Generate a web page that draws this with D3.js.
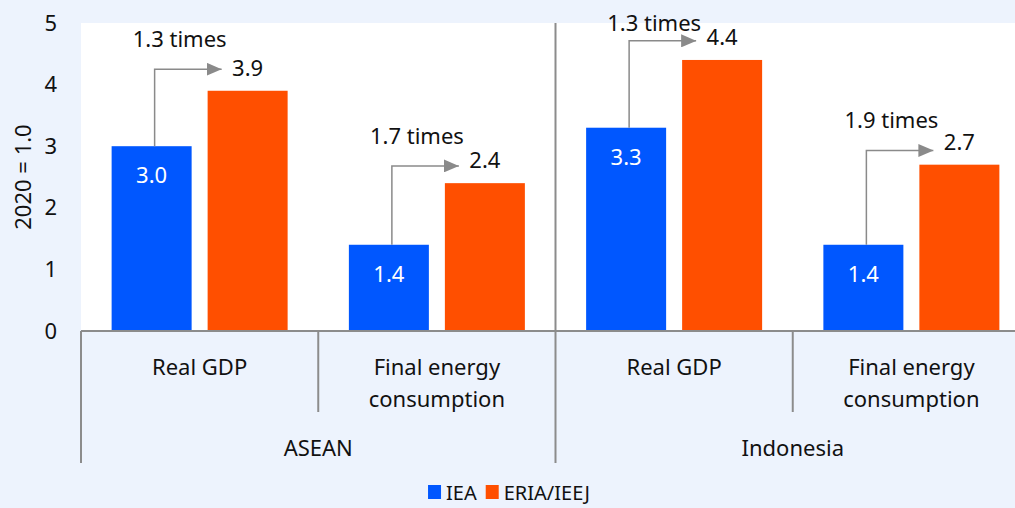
<!DOCTYPE html>
<html>
<head>
<meta charset="utf-8">
<script src="https://cdn.jsdelivr.net/npm/d3@7"></script>
<style>
  html, body { margin: 0; padding: 0; background: #EDF3FD; }
  svg { display: block; font-family: "Noto Sans", "Open Sans", sans-serif; }
</style>
</head>
<body>
<svg id="chart" width="1015" height="508"></svg>
<script>
// Regions, indicators and series
const regions = ["ASEAN", "Indonesia"];
const indicators = ["Real GDP", "Final energy consumption"];
const indicatorLines = [["Real GDP"], ["Final energy", "consumption"]];
const series = ["IEA", "ERIA/IEEJ"];

// Multiples of 2020 level (2020 = 1.0), ordered region × indicator
const ieaValues = [3.0, 1.4, 3.3, 1.4];
const eriaValues = [3.9, 2.4, 4.4, 2.7];

// Growth ratio annotations, and the levels (in index units) of the arrow and its label
const ratioLabels = ["1.3 times", "1.7 times", "1.3 times", "1.9 times"];
const arrowLevels = [4.25, 2.68, 4.71, 2.93];
const ratioLabelLevels = [4.76, 3.18, 5.02, 3.44];

const yTicks = [0, 1, 2, 3, 4, 5];
const yTitle = "2020 = 1.0";

const colors = { "IEA": "#0057FF", "ERIA/IEEJ": "#FF4F00" };
const axisGrey = "#8C8C8C";
const arrowGrey = "#8A8A8A";
const fontSize = 22;
const legendFontSize = 20;

const svg = d3.select("#chart");
const plot = { left: 81, right: 1030, top: 23, bottom: 331 };

const y = d3.scaleLinear().domain([0, 5]).range([plot.bottom, plot.top]);
const xRegion = d3.scaleBand().domain(regions).range([plot.left, plot.right]);
const xInd = d3.scaleBand().domain(indicators).range([0, xRegion.bandwidth()]);
const xSer = d3.scaleBand().domain(series)
  .range([xInd.bandwidth() / 2 - 88, xInd.bandwidth() / 2 + 88])
  .paddingInner(1 / 6);

// white plotting area
svg.append("rect")
  .attr("x", plot.left).attr("y", plot.top)
  .attr("width", plot.right - plot.left).attr("height", plot.bottom - plot.top)
  .attr("fill", "#FFFFFF");

// rows of bar data
const rows = [];
regions.forEach((r, ri) => indicators.forEach((ind, ii) => {
  const k = ri * indicators.length + ii;
  rows.push({ region: r, indicator: ind, k,
    values: { "IEA": ieaValues[k], "ERIA/IEEJ": eriaValues[k] } });
}));
const groupX = d => xRegion(d.region) + xInd(d.indicator);

// bars
const g = svg.append("g");
rows.forEach(d => {
  series.forEach(s => {
    g.append("rect")
      .attr("x", groupX(d) + xSer(s))
      .attr("y", y(d.values[s]))
      .attr("width", xSer.bandwidth())
      .attr("height", y(0) - y(d.values[s]))
      .attr("fill", colors[s]);
  });
});

// arrowhead
svg.append("defs").append("marker")
  .attr("id", "head").attr("viewBox", "0 0 15 13")
  .attr("refX", 15).attr("refY", 6.5)
  .attr("markerWidth", 15).attr("markerHeight", 13)
  .attr("markerUnits", "userSpaceOnUse").attr("orient", "auto")
  .append("path").attr("d", "M0,0 L15,6.5 L0,13 Z").attr("fill", arrowGrey);

// value labels and growth arrows
rows.forEach(d => {
  const bx = groupX(d) + xSer("IEA") + xSer.bandwidth() / 2;
  const ox = groupX(d) + xSer("ERIA/IEEJ") + xSer.bandwidth() / 2;
  const oLeft = groupX(d) + xSer("ERIA/IEEJ");
  const ay = y(arrowLevels[d.k]);

  g.append("text")
    .attr("x", bx).attr("y", y(d.values["IEA"]) + 28)
    .attr("text-anchor", "middle").attr("dominant-baseline", "central")
    .attr("fill", "#FFFFFF").attr("font-size", fontSize)
    .text(d3.format(".1f")(d.values["IEA"]));

  g.append("text")
    .attr("x", ox).attr("y", y(d.values["ERIA/IEEJ"]) - 24)
    .attr("text-anchor", "middle").attr("dominant-baseline", "central")
    .attr("fill", "#111").attr("font-size", fontSize)
    .text(d3.format(".1f")(d.values["ERIA/IEEJ"]));

  g.append("path")
    .attr("d", d3.line()([[bx + 3, y(d.values["IEA"])], [bx + 3, ay], [oLeft + 14, ay]]))
    .attr("fill", "none").attr("stroke", arrowGrey).attr("stroke-width", 1.5)
    .attr("marker-end", "url(#head)");

  g.append("text")
    .attr("x", bx + 28).attr("y", y(ratioLabelLevels[d.k]))
    .attr("text-anchor", "middle").attr("dominant-baseline", "central")
    .attr("fill", "#111").attr("font-size", fontSize)
    .text(ratioLabels[d.k]);
});

// y axis
const yAxis = svg.append("g")
  .attr("transform", `translate(${plot.left},0)`)
  .call(d3.axisLeft(y).tickValues(yTicks).tickSize(0).tickPadding(24).tickFormat(d3.format("d")));
yAxis.select(".domain").remove();
yAxis.selectAll("text").attr("font-size", fontSize).attr("fill", "#111")
  .attr("font-family", "Noto Sans, Open Sans, sans-serif");

svg.append("text")
  .attr("transform", `translate(22,${(plot.top + plot.bottom) / 2}) rotate(-90)`)
  .attr("text-anchor", "middle").attr("dominant-baseline", "central")
  .attr("font-size", fontSize).attr("fill", "#111")
  .text(yTitle);

// category axis: baseline, dividers, and labels
const ax = svg.append("g").attr("stroke", axisGrey).attr("stroke-width", 2);
ax.append("line").attr("x1", plot.left).attr("x2", plot.right)
  .attr("y1", plot.bottom).attr("y2", plot.bottom);
regions.forEach((r, i) => {
  const x0 = xRegion(r);
  ax.append("line").attr("x1", x0).attr("x2", x0)
    .attr("y1", i === 0 ? plot.bottom : plot.top).attr("y2", 463);
  indicators.forEach((ind, j) => {
    if (j > 0) {
      const xi = x0 + xInd(ind);
      ax.append("line").attr("x1", xi).attr("x2", xi)
        .attr("y1", plot.bottom).attr("y2", 412);
    }
  });
});
const lastX = xRegion(regions[regions.length - 1]) + xRegion.bandwidth();
ax.append("line").attr("x1", lastX).attr("x2", lastX)
  .attr("y1", plot.top).attr("y2", 463);

const labels = svg.append("g").attr("font-size", fontSize).attr("fill", "#111")
  .attr("text-anchor", "middle");
regions.forEach(r => {
  indicators.forEach((ind, j) => {
    const cx = xRegion(r) + xInd(ind) + xInd.bandwidth() / 2;
    indicatorLines[j].forEach((line, li) => {
      labels.append("text").attr("x", cx).attr("y", 366 + li * 32)
        .attr("dominant-baseline", "central").text(line);
    });
  });
  labels.append("text").attr("x", xRegion(r) + xRegion.bandwidth() / 2).attr("y", 447)
    .attr("dominant-baseline", "central").text(r);
});

// legend
const legend = svg.append("g");
let lx = 0;
series.forEach(s => {
  const item = legend.append("g").attr("transform", `translate(${lx},0)`);
  item.append("rect").attr("x", 0).attr("y", -7).attr("width", 13).attr("height", 14)
    .attr("fill", colors[s]);
  const t = item.append("text").attr("x", 18).attr("y", 0)
    .attr("dominant-baseline", "central").attr("font-size", legendFontSize).attr("fill", "#111")
    .text(s);
  lx += 18 + t.node().getComputedTextLength() + 9;
});
const lw = lx - 9;
legend.attr("transform", `translate(${509 - lw / 2},492)`);
</script>
</body>
</html>
